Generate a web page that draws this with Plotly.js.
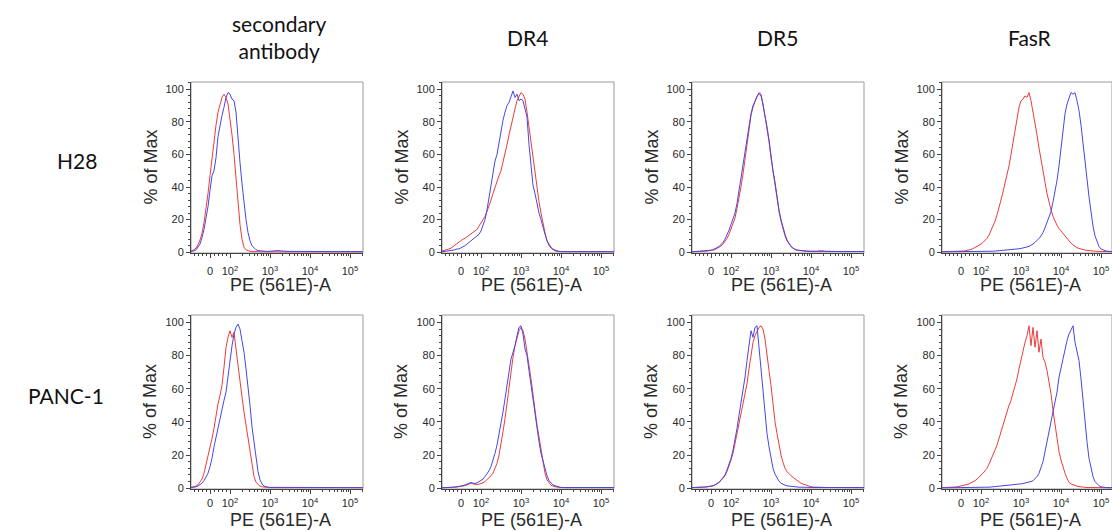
<!DOCTYPE html>
<html>
<head>
<meta charset="utf-8">
<script src="https://cdn.plot.ly/plotly-3.0.1.min.js"></script>
<style>html,body{margin:0;padding:0;background:#fff;}#chart{width:1112px;height:531px;}</style>
</head>
<body>
<div id="chart"></div>
<script>
// ---------- DATA ----------
// display position on the biexponential PE axis (10^3 at 3, 10^4 at 4 ...), one histogram bin per value
const BINS = [1.00,1.05,1.10,1.15,1.20,1.25,1.30,1.35,1.40,1.45,
1.50,1.55,1.60,1.65,1.70,1.75,1.80,1.85,1.90,1.95,
2.00,2.05,2.10,2.15,2.20,2.25,2.30,2.35,2.40,2.45,
2.50,2.55,2.60,2.65,2.70,2.75,2.80,2.85,2.90,2.95,
3.00,3.05,3.10,3.15,3.20,3.25,3.30,3.35,3.40,3.45,
3.50,3.55,3.60,3.65,3.70,3.75,3.80,3.85,3.90,3.95,
4.00,4.05,4.10,4.15,4.20,4.25,4.30,4.35,4.40,4.45,
4.50,4.55,4.60,4.65,4.70,4.75,4.80,4.85,4.90,4.95,
5.00,5.05,5.10,5.15,5.20,5.25,5.30,5.35];

const ROW_LABELS = ['H28', 'PANC-1'];
const COL_LABELS = ['secondary<br>antibody', 'DR4', 'DR5', 'FasR'];
const TICK_VALS = [1.5, 2, 3, 4, 5];
const TICK_TEXT = ['0', '10<sup>2</sup>', '10<sup>3</sup>', '10<sup>4</sup>', '10<sup>5</sup>'];
const Y_TICKS = [0, 20, 40, 60, 80, 100];
const X_TITLE = 'PE (561E)-A';
const Y_TITLE = '% of Max';

// H28
const H28_SEC_RED = [0.4,0.8,1.5,2.5,4.5,7.5,11.5,18,26,36,
47,58,69,78,86,91,95,97,95,91,
83,72,60,44,30,17,8,3,1.5,0.8,
0.5,0.4,0.3,0.3,0.3,0.3,0.3,0.2,0.2,0.2,
0.2,0.2,0.2,0.2,0.2,0.2,0.2,0.2,0.2,0.2,
0.2,0.2,0.2,0.2,0.2,0.2,0.2,0.2,0.2,0.2,
0.2,0.2,0.2,0.2,0.2,0.2,0.2,0.2,0.2,0.2,
0.2,0.2,0.2,0.2,0.2,0.2,0.2,0.2,0.2,0.2,
0.2,0.2,0.2,0.2,0.2,0.2,0.2,0.2];
const H28_SEC_BLUE = [0.3,0.5,0.8,1.4,3,5,9,14,21,28,
38,47,50,58,71,79,84,89,95,98,
97,94,93,86,68,55,42,30,20,12,
7,4,2.5,1.5,1,0.8,0.6,0.5,0.5,0.5,
0.6,0.8,1,0.8,1,0.8,0.6,0.8,0.6,0.5,
0.5,0.4,0.5,0.4,0.4,0.5,0.4,0.3,0.4,0.3,
0.3,0.3,0.3,0.3,0.3,0.3,0.3,0.3,0.3,0.3,
0.3,0.3,0.3,0.3,0.3,0.3,0.3,0.3,0.3,0.3,
0.3,0.3,0.3,0.3,0.3,0.3,0.3,0.3];
const H28_DR4_RED = [0.5,0.8,1,1.5,2,2.5,3.5,4.5,5.5,6.5,
7,8,8.5,9.5,10,11,12,13,14,16,
18,20,22,25,28,32,36,40,44,47,
50,55,60,66,72,78,82,88,93,96,
98,97,94,86,77,66,56,48,38,31,
24,17,12,7,4,2.5,1.5,0.8,0.5,0.4,
0.3,0.3,0.3,0.3,0.3,0.3,0.3,0.3,0.3,0.3,
0.3,0.3,0.3,0.3,0.3,0.3,0.3,0.3,0.3,0.3,
0.3,0.3,0.3,0.3,0.3,0.3,0.3,0.3];
const H28_DR4_BLUE = [0.2,0.3,0.4,0.5,0.7,1,1.2,1.5,2,2,
2.5,3,4,5,6,7,8,9,10,11,
13,16,20,26,33,40,47,56,60,68,
76,81,86,90,92,95,99,95,97,93,
94,93,88,83,66,51,41,36,29,24,
20,15,11,7,4.5,3,1.8,1.2,0.8,0.5,
0.3,0.3,0.3,0.3,0.3,0.3,0.3,0.3,0.3,0.3,
0.3,0.3,0.3,0.3,0.3,0.3,0.3,0.3,0.3,0.3,
0.3,0.3,0.3,0.3,0.3,0.3,0.3,0.3];
const H28_DR5_RED = [0.2,0.2,0.3,0.3,0.4,0.4,0.5,0.6,0.7,0.8,
1,1.3,1.6,2.2,3,3.8,5,6.5,8.5,11,
14,17,21,27,33,40,48,57,67,76,
84,89,93,96,97,96,91,84,76,68,
58,49,42,33,25,19,14,10,7,5,
3.5,2.5,1.8,1.3,1,0.8,0.7,0.6,0.5,0.5,
0.4,0.4,0.4,0.4,0.4,0.4,0.4,0.4,0.4,0.4,
0.4,0.4,0.4,0.4,0.4,0.4,0.4,0.4,0.4,0.4,
0.4,0.4,0.4,0.4,0.4,0.4,0.4,0.4];
const H28_DR5_BLUE = [0.2,0.3,0.3,0.4,0.5,0.5,0.6,0.7,0.8,1,
1.2,1.6,2,2.8,3.5,4.5,6,8,10.5,13.5,
17,20,24,30,38,44,52,61,70,77,
85,90,93,96,98,97,91,85,77,69,
58,50,43,34,26,20,15,11,7.5,5,
3.5,2.5,1.6,1.3,1.1,1,0.9,0.8,0.7,0.6,
0.5,0.5,0.5,0.6,0.8,1,0.8,0.6,0.5,0.5,
0.4,0.4,0.4,0.4,0.4,0.4,0.4,0.4,0.4,0.4,
0.4,0.4,0.4,0.4,0.4,0.4,0.4,0.4];
const H28_FAS_RED = [0.3,0.3,0.3,0.3,0.3,0.4,0.4,0.5,0.5,0.5,
0.6,0.7,0.8,1,1.3,1.7,2.2,2.8,3.5,4.3,
5,6,7,8.5,10.5,13,16,19,23,27,
32,37,42,48,53,60,68,76,84,89,
93,94,96,95,98,93,86,80,72,64,
56,49,43,36,30,26,22,19,16.5,14.5,
13,11,9.5,8,6.5,5.5,4.5,3.5,2.8,2.3,
1.8,1.5,1.3,1.1,0.9,0.8,0.7,0.6,0.5,0.5,
0.4,0.4,0.3,0.3,0.3,0.3,0.3,0.3];
const H28_FAS_BLUE = [0.2,0.2,0.2,0.2,0.2,0.2,0.2,0.2,0.2,0.2,
0.2,0.2,0.2,0.2,0.2,0.3,0.3,0.3,0.3,0.3,
0.3,0.4,0.4,0.5,0.5,0.6,0.6,0.7,0.8,0.8,
0.9,1,1,1.1,1.2,1.4,1.5,1.7,1.9,2.1,
2.3,2.5,2.8,3.2,3.6,4.2,5,6,7,8.5,
10,12,15,18,21,25,31,37,44,53,
65,76,85,91,95,98,97,98,93,87,
78,68,57,45,34,24,16,10,6,3.5,
2,1.3,0.9,0.6,0.5,0.4,0.3,0.3];

// PANC-1
const PANC_SEC_RED = [0.3,0.5,0.8,1.3,2,3.5,5.5,9,14,20,
25,30,36,44,51,56,62,73,85,91,
95,91,94,84,73,63,55,46,38,28,
20,12,7,3.5,2,1.2,0.8,0.6,0.5,0.4,
0.3,0.3,0.3,0.3,0.3,0.3,0.3,0.3,0.3,0.3,
0.3,0.3,0.3,0.3,0.3,0.3,0.3,0.3,0.3,0.3,
0.3,0.3,0.3,0.3,0.3,0.3,0.3,0.3,0.3,0.3,
0.3,0.3,0.3,0.3,0.3,0.3,0.3,0.3,0.3,0.3,
0.3,0.3,0.3,0.3,0.3,0.3,0.3,0.3];
const PANC_SEC_BLUE = [0.2,0.3,0.5,0.8,1.3,2,3,4.5,6.5,9,
13,18,25,31,37,43,49,53,58,68,
78,86,93,97,99,96,89,82,72,62,
50,37,27,17,10,5,2.5,1.3,0.8,0.6,
0.5,0.5,0.6,0.5,0.4,0.5,0.4,0.4,0.5,0.4,
0.4,0.4,0.4,0.4,0.4,0.4,0.4,0.4,0.4,0.4,
0.3,0.3,0.3,0.3,0.3,0.3,0.3,0.3,0.3,0.3,
0.3,0.3,0.3,0.3,0.3,0.3,0.3,0.3,0.3,0.3,
0.3,0.3,0.3,0.3,0.3,0.3,0.3,0.3];
const PANC_DR4_RED = [0.2,0.2,0.3,0.3,0.4,0.5,0.5,0.6,0.7,0.8,
1,1.2,1.5,2,2.5,3,2.6,2.3,2.2,2.4,
2.7,3.2,4,5,6,7.5,9,11.5,15,20,
26,34,42,52,62,71,79,86,91,95,
97,95,90,83,74,66,56,46,38,31,
23,15,9,5,3,1.8,1.2,0.8,0.6,0.5,
0.3,0.3,0.3,0.3,0.3,0.3,0.3,0.3,0.3,0.3,
0.3,0.3,0.3,0.3,0.3,0.3,0.3,0.3,0.3,0.3,
0.3,0.3,0.3,0.3,0.3,0.3,0.3,0.3];
const PANC_DR4_BLUE = [0.2,0.2,0.3,0.3,0.4,0.5,0.6,0.7,0.8,1,
1.2,1.5,2,2.6,3,3.4,3,2.8,3.2,3.8,
4.5,5.5,7,8.5,10.5,13,16.5,21,26,32,
39,46,54,62,71,78,82,86,92,97,
98,93,84,80,71,62,52,44,36,28,
21,16,11,7.5,4.5,3,2,1.5,1.1,0.8,
0.4,0.4,0.4,0.4,0.4,0.4,0.4,0.4,0.4,0.4,
0.4,0.4,0.4,0.4,0.4,0.4,0.4,0.4,0.4,0.4,
0.4,0.4,0.4,0.4,0.4,0.4,0.4,0.4];
const PANC_DR5_RED = [0.3,0.3,0.4,0.4,0.5,0.5,0.6,0.7,0.8,0.9,
1,1.4,1.9,2.6,3.4,4.6,6,7.5,10,13,
17,21,27,33,40,47,52,57,63,72,
80,88,92,95,97,98,96,90,82,71,
62,49,40,33,26,20,15.5,12,10,8.5,
7.5,6.5,5.5,4.5,3.5,3,2.5,2,1.5,1.2,
0.9,0.7,0.6,0.5,0.4,0.4,0.4,0.4,0.4,0.4,
0.4,0.4,0.4,0.4,0.4,0.4,0.4,0.4,0.4,0.4,
0.3,0.3,0.3,0.3,0.3,0.3,0.3,0.3];
const PANC_DR5_BLUE = [0.3,0.3,0.4,0.4,0.5,0.5,0.6,0.7,0.8,0.9,
1,1.5,2,2.8,3.6,5,6.5,8,11,14,
18,23,29,36,44,51,58,67,77,87,
95,91,97,98,84,72,56,44,33,25,
18,12,8.5,6,4.2,3,2.2,1.8,1.4,1.2,
1,0.9,0.8,0.7,0.6,0.6,0.5,0.5,0.5,0.5,
0.4,0.4,0.4,0.4,0.4,0.4,0.4,0.4,0.4,0.4,
0.4,0.4,0.4,0.4,0.4,0.4,0.4,0.4,0.4,0.4,
0.4,0.4,0.4,0.4,0.4,0.4,0.4,0.4];
const PANC_FAS_RED = [0.3,0.3,0.4,0.4,0.5,0.5,0.6,0.7,0.8,1,
1.2,1.5,1.8,2.2,2.6,3.2,3.8,4.5,5.5,6.5,
7.5,9,10.5,12,14.5,17,20,23,26,30,
34,39,43,47,50,53,57,61,66,72,
78,83,88,92,98,86,97,85,95,82,
90,79,76,71,64,57,47,38,29,22,
17,12.5,9,6,3.5,2.6,2,1.5,1.2,0.9,
0.7,0.6,0.5,0.4,0.4,0.4,0.4,0.4,0.4,0.4,
0.3,0.3,0.3,0.3,0.3,0.3,0.3,0.3];
const PANC_FAS_BLUE = [0.2,0.2,0.2,0.2,0.2,0.2,0.2,0.2,0.2,0.2,
0.2,0.2,0.2,0.3,0.3,0.3,0.3,0.3,0.3,0.3,
0.4,0.5,0.5,0.6,0.6,0.7,0.8,0.9,1,1.1,
1.2,1.3,1.5,1.8,2,1.8,1.9,2.1,2.3,2.5,
2.6,2.8,3,3.2,3.5,4,4.5,5.5,7,9,
12,16,22,28,35,40,45,52,58,67,
73,79,85,89,93,96,98,88,83,77,
66,52,40,28,18,12,7,4,2.5,1.5,
0.8,0.5,0.4,0.3,0.3,0.3,0.3,0.3];

const RED_SERIES = [H28_SEC_RED, H28_DR4_RED, H28_DR5_RED, H28_FAS_RED,
                    PANC_SEC_RED, PANC_DR4_RED, PANC_DR5_RED, PANC_FAS_RED];
const BLUE_SERIES = [H28_SEC_BLUE, H28_DR4_BLUE, H28_DR5_BLUE, H28_FAS_BLUE,
                     PANC_SEC_BLUE, PANC_DR4_BLUE, PANC_DR5_BLUE, PANC_FAS_BLUE];

// ---------- LAYOUT ----------
const W = 1112, H = 531;
const COL_LEFT = [191, 442, 692, 942];
const COL_WIDTH = [172, 172, 172, 170];
const ROW_TOP = [82, 315];
const ROW_BOT = [253, 489];
const X_TITLE_Y = [285, 520];
const TICK_STANDOFF = [4, 0];
const RED = '#ef3b3b', BLUE = '#4646e8';
const AXIS_COL = '#444', FRAME_COL = '#9a9a9a', TXT_COL = '#2a2a2a';
const SANS = 'Liberation Sans, Arial, sans-serif';

const minorX = [];
for (let v = 1.1; v < 1.95; v += 0.1) minorX.push(+v.toFixed(2));
for (let n = 2; n <= 5; n++) for (let k = 2; k <= 9; k++) minorX.push(n + Math.log10(k));

const px = x => x / W;
const py = y => 1 - y / H;

const traces = [];
const layout = {
  width: W, height: H,
  margin: {l: 0, r: 0, t: 0, b: 0},
  paper_bgcolor: '#fff', plot_bgcolor: '#fff',
  showlegend: false,
  font: {family: SANS, color: TXT_COL},
  annotations: [], shapes: []
};

for (let i = 0; i < 8; i++) {
  const r = Math.floor(i / 4), c = i % 4;
  const n = i + 1;
  const xa = 'x' + (n === 1 ? '' : n), ya = 'y' + (n === 1 ? '' : n);
  const xk = 'xaxis' + (n === 1 ? '' : n), yk = 'yaxis' + (n === 1 ? '' : n);
  const left = COL_LEFT[c], right = COL_LEFT[c] + COL_WIDTH[c];
  const xr = [1.025, 1.025 + COL_WIDTH[c] / 40];

  traces.push({x: BINS, y: RED_SERIES[i], xaxis: xa, yaxis: ya, type: 'scatter', mode: 'lines',
               line: {color: RED, width: 1}, hoverinfo: 'skip'});
  traces.push({x: BINS, y: BLUE_SERIES[i], xaxis: xa, yaxis: ya, type: 'scatter', mode: 'lines',
               line: {color: BLUE, width: 1}, hoverinfo: 'skip'});

  layout[xk] = {
    domain: [px(left), px(right)], anchor: ya, range: xr,
    showgrid: false, zeroline: false, showline: true, linecolor: AXIS_COL, linewidth: 1,
    ticks: 'outside', ticklen: 4, tickcolor: AXIS_COL, tickwidth: 1,
    tickmode: 'array', tickvals: TICK_VALS, ticktext: TICK_TEXT,
    tickfont: {size: 11, color: TXT_COL, family: SANS},
    ticklabelstandoff: TICK_STANDOFF[r],
    minor: {tickmode: 'array', tickvals: minorX, ticks: 'outside', ticklen: 2, tickcolor: AXIS_COL, showgrid: false},
    fixedrange: true
  };
  layout[yk] = {
    domain: [py(ROW_BOT[r]), py(ROW_TOP[r])], anchor: xa, range: [-0.5, 104.5],
    showgrid: false, zeroline: false, showline: true, linecolor: AXIS_COL, linewidth: 1,
    ticks: 'outside', ticklen: 4, tickcolor: AXIS_COL, tickwidth: 1,
    tickmode: 'array', tickvals: Y_TICKS,
    tickfont: {size: 11, color: TXT_COL, family: SANS},
    minor: {dtick: 4, ticks: 'outside', ticklen: 2, tickcolor: AXIS_COL, showgrid: false},
    fixedrange: true
  };
  layout.shapes.push({type: 'rect', xref: xa + ' domain', yref: ya + ' domain', x0: 0, x1: 1, y0: 0, y1: 1,
                      line: {color: FRAME_COL, width: 1}, layer: 'below'});
  layout.annotations.push({text: X_TITLE, xref: 'paper', yref: 'paper', x: px((left + right) / 2 + 3), y: py(X_TITLE_Y[r]),
                           xanchor: 'center', yanchor: 'middle', showarrow: false,
                           font: {size: 18, color: TXT_COL, family: SANS}});
  layout.annotations.push({text: Y_TITLE, xref: 'paper', yref: 'paper', x: px(left - 41), y: py((ROW_TOP[r] + ROW_BOT[r]) / 2),
                           xanchor: 'center', yanchor: 'middle', textangle: -90, showarrow: false,
                           font: {size: 18, color: TXT_COL, family: SANS}});
}

// column headers
const COL_HEAD_X = [279, 527, 777, 1030];
COL_LABELS.forEach((t, c) => {
  layout.annotations.push({text: t, xref: 'paper', yref: 'paper', x: px(COL_HEAD_X[c]), y: py(37),
                           xanchor: 'center', yanchor: 'middle', showarrow: false,
                           font: {size: 21, color: '#111', family: 'Lato, sans-serif'}});
});
// row headers
const ROW_HEAD = [[77, 160], [66, 395]];
ROW_LABELS.forEach((t, r) => {
  layout.annotations.push({text: t, xref: 'paper', yref: 'paper', x: px(ROW_HEAD[r][0]), y: py(ROW_HEAD[r][1]),
                           xanchor: 'center', yanchor: 'middle', showarrow: false,
                           font: {size: 21, color: '#111', family: 'Lato, sans-serif'}});
});

Plotly.newPlot('chart', traces, layout, {staticPlot: true, displayModeBar: false});
</script>
</body>
</html>
